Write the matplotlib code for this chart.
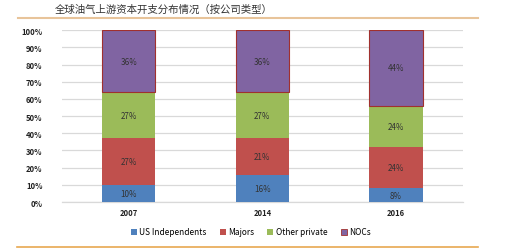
import matplotlib
matplotlib.use("Agg")
import matplotlib.pyplot as plt
from matplotlib.lines import Line2D
import numpy as np

plt.rcParams['font.family'] = ['Noto Sans CJK SC', 'DejaVu Sans']

years = ['2007', '2014', '2016']
series = ['US Independents', 'Majors', 'Other private', 'NOCs']
us_indep = [10, 16, 8]
majors = [27, 21, 24]
other_private = [27, 27, 24]
nocs = [36, 36, 44]
colors = ['#4f81bd', '#c0504d', '#9bbb59', '#8064a2']
title = '全球油气上游资本开支分布情况（按公司类型）'

fig = plt.figure(figsize=(5.2, 2.51), dpi=100)
ax = fig.add_axes([0.119, 0.191, 0.771, 0.685])

x = np.arange(len(years))
bottom = np.zeros(len(years))
for name, vals, c in zip(series, [us_indep, majors, other_private, nocs], colors):
    vals = np.array(vals, dtype=float)
    edge = '#a0302e' if name == 'NOCs' else c
    ax.bar(x, vals, 0.4, bottom=bottom, color=c, edgecolor=edge,
           linewidth=0.8 if name == 'NOCs' else 0, zorder=3)
    for xi, b, v in zip(x, bottom, vals):
        ax.text(xi, b + v / 2, f'{int(v)}%', ha='center', va='center',
                fontsize=5.8, color='#333333', zorder=4)
    bottom += vals

ax.set_xlim(-0.5, 2.5)
ax.set_ylim(0, 100)
ax.set_yticks(range(0, 101, 10))
ax.set_yticklabels([f'{v}%' for v in range(0, 101, 10)], fontsize=5.5,
                   fontweight='bold', color='#222222')
ax.set_xticks(x)
ax.set_xticklabels(years, fontsize=5.5, fontweight='bold', color='#222222')
ax.tick_params(length=0, pad=4)
ax.tick_params(axis='y', pad=14)
ax.yaxis.grid(True, color='#d9d9d9', linewidth=0.9, zorder=0)
for s in ['top', 'right', 'left']:
    ax.spines[s].set_visible(False)
ax.spines['bottom'].set_color('#d9d9d9')
ax.spines['bottom'].set_linewidth(0.9)

handles = [Line2D([], [], marker='s', linestyle='', markersize=4,
                  markeredgewidth=0.6 if n == 'NOCs' else 0,
                  markerfacecolor=c, markeredgecolor=('#a0302e' if n == 'NOCs' else c))
           for n, c in zip(series, colors)]
fig.legend(handles, series, loc='center', bbox_to_anchor=(0.482, 0.072),
           ncol=4, frameon=False, fontsize=6, handletextpad=0.3,
           columnspacing=1.5, handlelength=0.8)

fig.text(0.106, 0.96, title, fontsize=7.5, color='#333333', va='center', ha='left')
fig.add_artist(Line2D([0.035, 0.919], [0.924, 0.924], color='#e8c49a', linewidth=1.5,
                      transform=fig.transFigure))
fig.add_artist(Line2D([0.033, 0.919], [0.012, 0.012], color='#e8a850', linewidth=1.2,
                      transform=fig.transFigure))

fig.savefig('out.png', dpi=100)
